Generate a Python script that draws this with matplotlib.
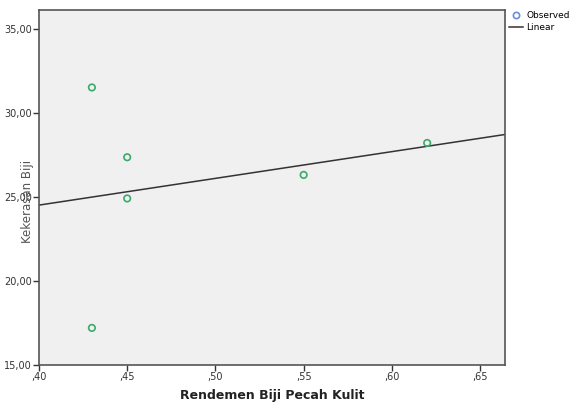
import numpy as np
import matplotlib.pyplot as plt
from matplotlib.lines import Line2D
from matplotlib.ticker import FuncFormatter

# observed values
rendemen = [0.43, 0.43, 0.45, 0.45, 0.55, 0.62]
kekerasan = [31.5, 17.2, 27.35, 24.9, 26.3, 28.2]

xticks = [0.40, 0.45, 0.50, 0.55, 0.60, 0.65]
yticks = [15, 20, 25, 30, 35]

fig = plt.figure(figsize=(5.73, 4.05), dpi=100)
ax = fig.add_axes([0.068, 0.099, 0.813, 0.876])
ax.set_facecolor('#f0f0f0')

ax.scatter(rendemen, kekerasan, s=22, facecolors='none', edgecolors='#3aaa6a', linewidths=1.2, zorder=3)

# linear fit
slope, intercept = np.polyfit(rendemen, kekerasan, 1)
xl = np.array([0.40, 0.664])
ax.plot(xl, intercept + slope * xl, color='#333333', lw=1.1, zorder=2)

ax.set_xlim(0.40, 0.664)
ax.set_ylim(15, 36.1)
ax.set_xticks(xticks)
ax.set_yticks(yticks)
ax.xaxis.set_major_formatter(FuncFormatter(lambda v, p: ('%.2f' % v).lstrip('0').replace('.', ',')))
ax.yaxis.set_major_formatter(FuncFormatter(lambda v, p: ('%.2f' % v).replace('.', ',')))
ax.tick_params(labelsize=7, colors='#333333', length=4, width=1, direction='out', pad=1)

for s in ax.spines.values():
    s.set_color('#555555')
    s.set_linewidth(1.2)

ax.text(0.5, -0.087, 'Rendemen Biji Pecah Kulit', transform=ax.transAxes,
        fontsize=9, fontweight='bold', color='#222222', ha='center', va='center')
ax.text(-0.025, 0.46, 'Kekerasan Biji', transform=ax.transAxes, rotation=90,
        fontsize=8.5, color='#555555', ha='center', va='center')

handles = [Line2D([], [], marker='o', ls='none', mfc='none', mec='#6c8cd5', ms=4.5, mew=1.2),
           Line2D([], [], color='#333333', lw=1.1)]
fig.legend(handles, ['Observed', 'Linear'], loc='upper left', bbox_to_anchor=(0.885, 0.978),
           frameon=False, fontsize=6.5, handlelength=1.6, handletextpad=0.3, labelspacing=0.35,
           borderaxespad=0, borderpad=0.2)

fig.savefig('out.png', dpi=100)
